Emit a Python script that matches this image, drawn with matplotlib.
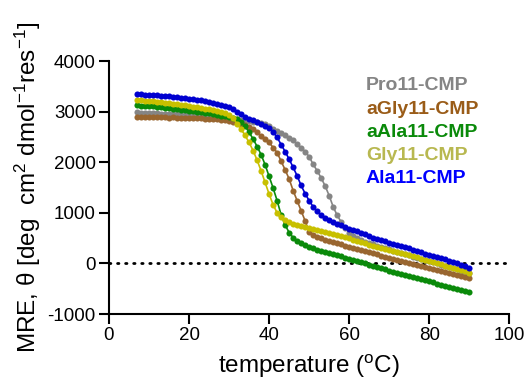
import numpy as np
import matplotlib
matplotlib.use('Agg')
import matplotlib.pyplot as plt

# temperature scan, 1 degC steps
temp = list(range(7, 91))

pro11 = [2985, 2980, 2975, 2975, 2970, 2965, 2960, 2955, 2950, 2950,
         2945, 2940, 2935, 2930, 2925, 2920, 2915, 2910, 2900, 2895,
         2890, 2880, 2875, 2870, 2860, 2850, 2840, 2825, 2810, 2800,
         2785, 2770, 2750, 2720, 2660, 2615, 2580, 2530, 2470, 2430,
         2360, 2290, 2210, 2110, 1960, 1830, 1690, 1530, 1340, 1120,
         950, 820, 700, 610, 545, 500, 465, 430, 400, 375,
         350, 325, 300, 275, 250, 225, 200, 180, 160, 135,
         110, 90, 65, 45, 20, 0, -25, -50, -75, -100,
         -120, -145, -170, -195]

agly11 = [2895, 2890, 2895, 2890, 2890, 2885, 2890, 2885, 2880, 2885,
          2880, 2880, 2875, 2875, 2870, 2870, 2865, 2860, 2855, 2850,
          2845, 2835, 2825, 2815, 2800, 2780, 2760, 2735, 2705, 2650,
          2590, 2520, 2460, 2390, 2290, 2190, 2020, 1850, 1670, 1440,
          1240, 1040, 840, 620, 560, 525, 495, 470, 445, 420,
          395, 375, 350, 330, 310, 285, 265, 245, 225, 205,
          180, 155, 130, 105, 85, 60, 40, 20, 0, -20,
          -40, -60, -80, -100, -120, -140, -155, -170, -190, -210,
          -230, -250, -270, -290]

aala11 = [3125, 3120, 3115, 3110, 3105, 3100, 3090, 3080, 3070, 3060,
          3050, 3040, 3030, 3020, 3010, 3000, 2990, 2975, 2965, 2950,
          2935, 2920, 2905, 2890, 2875, 2855, 2800, 2710, 2590, 2460,
          2310, 2150, 1950, 1720, 1490, 1240, 960, 760, 610, 510,
          450, 400, 360, 320, 295, 270, 245, 225, 205, 180,
          160, 140, 115, 90, 65, 45, 25, 0, -25, -50,
          -75, -100, -120, -145, -170, -190, -210, -235, -255, -275,
          -295, -315, -335, -355, -375, -400, -420, -440, -465, -485,
          -505, -525, -545, -565]

gly11 = [3225, 3220, 3215, 3210, 3205, 3195, 3185, 3175, 3165, 3155,
         3145, 3135, 3125, 3115, 3100, 3090, 3075, 3060, 3045, 3030,
         3010, 2990, 2965, 2935, 2870, 2760, 2650, 2530, 2390, 2230,
         2040, 1830, 1600, 1370, 1160, 1000, 910, 850, 810, 780,
         755, 735, 715, 695, 675, 655, 635, 615, 600, 580,
         560, 540, 515, 495, 470, 445, 420, 395, 370, 345,
         325, 300, 280, 260, 240, 220, 200, 185, 165, 140,
         120, 95, 75, 50, 30, 5, -20, -45, -65, -85,
         -110, -130, -155, -180]

ala11 = [3345, 3340, 3335, 3330, 3325, 3320, 3310, 3305, 3300, 3290,
         3280, 3275, 3265, 3255, 3245, 3235, 3220, 3205, 3190, 3175,
         3160, 3140, 3120, 3090, 3050, 3000, 2950, 2900, 2860, 2830,
         2790, 2750, 2720, 2670, 2600, 2490, 2350, 2210, 2060, 1900,
         1730, 1540, 1380, 1240, 1120, 1030, 950, 895, 855, 815,
         785, 755, 725, 685, 660, 635, 605, 575, 540, 510,
         485, 460, 435, 410, 385, 360, 335, 315, 295, 270,
         245, 220, 195, 170, 150, 130, 105, 80, 55, 30,
         5, -25, -55, -90]

names = ["Pro11-CMP", "aGly11-CMP", "aAla11-CMP", "Gly11-CMP", "Ala11-CMP"]
series = [pro11, agly11, aala11, gly11, ala11]
line_colors = ["#858585", "#996630", "#0a8a0a", "#c8c000", "#0000d0"]
text_colors = ["#858585", "#9a5c18", "#0a8a0a", "#b8b850", "#0000ff"]

plt.rcParams.update({
    "font.family": ["Liberation Sans", "DejaVu Sans"],
    "mathtext.default": "regular",
    "axes.unicode_minus": False,
})

fig = plt.figure(figsize=(5.28, 3.79), dpi=100)
ax = fig.add_axes([0.2064, 0.1715, 0.7582, 0.6675])

ax.plot([0, 100], [0, 0], color="black", lw=2.0, ls=(0, (0.5, 2.4)),
        dash_capstyle="round", zorder=1)

for vals, c in zip(series, line_colors):
    ax.plot(temp, vals, color=c, lw=1.2, marker="o", ms=4.4,
            markeredgewidth=0, zorder=2)

ax.set_xlim(0, 100)
ax.set_ylim(-1000, 4000)
ax.set_xticks(range(0, 101, 20))
ax.set_yticks(range(-1000, 4001, 1000))
for s in ["top", "right"]:
    ax.spines[s].set_visible(False)
for s in ["left", "bottom"]:
    ax.spines[s].set_linewidth(1.5)
ax.tick_params(width=1.5, length=7.5, labelsize=13.5, pad=2)
ax.set_xlabel("temperature ($^{o}$C)", fontsize=17.5, labelpad=6)
ax.set_ylabel("MRE, θ [deg  cm$^{2}$ dmol$^{-1}$res$^{-1}$]", fontsize=17.5,
              labelpad=3)

# text legend
for i, (nm, c) in enumerate(zip(names, text_colors)):
    fig.text(366 / 528, 1 - (86 + 23.2 * i) / 379, nm, color=c,
             fontsize=14, fontweight="bold", va="center", ha="left")

fig.savefig("out.png", dpi=100)
